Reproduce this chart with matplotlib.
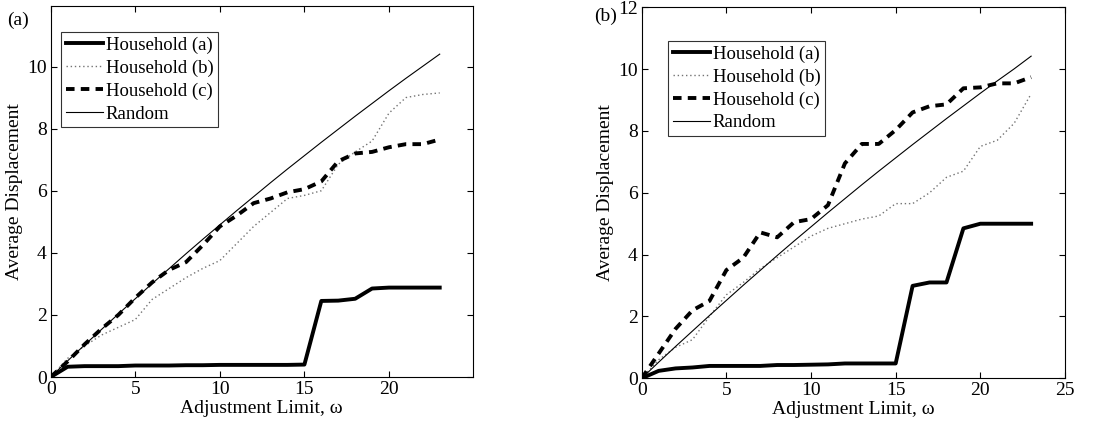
import numpy as np
import matplotlib
matplotlib.use('Agg')
import matplotlib.pyplot as plt

plt.rcParams['font.family'] = ['Liberation Serif', 'DejaVu Serif']

# adjustment limit
omega = list(range(24))

# random baseline (same for both panels)
rand_a = [0, 0.52, 1.03, 1.53, 2.03, 2.52, 3.01, 3.49, 3.97, 4.44, 4.9, 5.36,
          5.81, 6.26, 6.7, 7.13, 7.56, 7.98, 8.4, 8.81, 9.22, 9.62, 10.01, 10.4]
rand_b = [0, 0.52, 1.03, 1.53, 2.03, 2.52, 3.01, 3.49, 3.97, 4.44, 4.9, 5.36,
          5.81, 6.26, 6.7, 7.13, 7.56, 7.98, 8.4, 8.81, 9.22, 9.62, 10.01, 10.42]

# panel (a)
hh_a_a = [0, 0.33, 0.35, 0.35, 0.35, 0.37, 0.37, 0.37, 0.38, 0.38, 0.39, 0.39,
          0.39, 0.39, 0.39, 0.40, 2.45, 2.46, 2.52, 2.85, 2.88, 2.88, 2.88, 2.88]
hh_b_a = [0, 0.6, 1.0, 1.35, 1.6, 1.85, 2.5, 2.85, 3.2, 3.5, 3.75, 4.3,
          4.85, 5.3, 5.75, 5.85, 6.0, 6.85, 7.25, 7.6, 8.5, 9.0, 9.1, 9.15]
hh_c_a = [0, 0.5, 1.05, 1.55, 2.0, 2.55, 3.05, 3.45, 3.7, 4.25, 4.85, 5.2,
          5.6, 5.75, 5.95, 6.05, 6.3, 6.95, 7.2, 7.25, 7.4, 7.5, 7.5, 7.65]

# panel (b)
hh_a_b = [0, 0.24, 0.32, 0.35, 0.4, 0.4, 0.4, 0.4, 0.43, 0.43, 0.44, 0.45,
          0.48, 0.48, 0.48, 0.48, 2.99, 3.1, 3.1, 4.85, 5.0, 5.0, 5.0, 5.0]
hh_b_b = [0, 0.6, 1.0, 1.25, 2.0, 2.7, 3.1, 3.55, 3.9, 4.25, 4.6, 4.85,
          5.0, 5.15, 5.25, 5.65, 5.65, 6.0, 6.5, 6.7, 7.5, 7.7, 8.25, 9.2]
hh_c_b = [0, 0.8, 1.6, 2.2, 2.5, 3.5, 3.9, 4.72, 4.56, 5.05, 5.15, 5.6,
          6.95, 7.58, 7.58, 8.03, 8.6, 8.8, 8.86, 9.38, 9.41, 9.54, 9.54, 9.74]

labels = ['Household (a)', 'Household (b)', 'Household (c)', 'Random']

W, H = 1111, 424
fig = plt.figure(figsize=(W / 100, H / 100), dpi=100)

def px_axes(x0, y0, x1, y1):
    return fig.add_axes([x0 / W, 1 - y1 / H, (x1 - x0) / W, (y1 - y0) / H])

def draw(ax, a, b, c, r, xlim, ylim, xticks, legloc):
    ax.plot(omega, a, color='black', lw=2.8, label=labels[0])
    ax.plot(omega, b, color='0.45', lw=1.0, ls=(0, (1, 2)), label=labels[1])
    ax.plot(omega, c, color='black', lw=2.8, ls=(0, (2.2, 1.6)), label=labels[2])
    ax.plot(omega, r, color='black', lw=0.8, label=labels[3])
    ax.set_xlim(*xlim)
    ax.set_ylim(*ylim)
    ax.set_xticks(xticks)
    ax.set_yticks([0, 2, 4, 6, 8, 10] + ([12] if ylim[1] >= 12 else []))
    ax.tick_params(direction='in', top=True, right=True, labelsize=14,
                   length=4, width=0.8, pad=3)
    for s in ax.spines.values():
        s.set_linewidth(0.8)
    ax.set_xlabel('Adjustment Limit, ω', fontsize=14, labelpad=1)
    ax.set_ylabel('Average Displacement', fontsize=14, labelpad=3)
    leg = ax.legend(loc='upper left', bbox_to_anchor=legloc, fontsize=13.5,
                    frameon=True, fancybox=False, edgecolor='black',
                    handlelength=2.0, handletextpad=0.15, labelspacing=0.3,
                    borderpad=0.25, borderaxespad=0)
    leg.get_frame().set_linewidth(0.8)

ax1 = px_axes(50.7, 6, 472.7, 377)
draw(ax1, hh_a_a, hh_b_a, hh_c_a, rand_a, (0, 24.95), (0, 11.95),
     [0, 5, 10, 15, 20], (0.024, 0.93))

ax2 = px_axes(641.7, 7.3, 1065, 378.3)
draw(ax2, hh_a_b, hh_b_b, hh_c_b, rand_b, (0, 25), (0, 12),
     [0, 5, 10, 15, 20, 25], (0.062, 0.91))

fig.text(7 / W, 1 - 20 / H, '(a)', fontsize=14, va='center', ha='left')
fig.text(617 / W, 1 - 16 / H, '(b)', fontsize=14, va='center', ha='right')

fig.savefig('out.png', dpi=100)
